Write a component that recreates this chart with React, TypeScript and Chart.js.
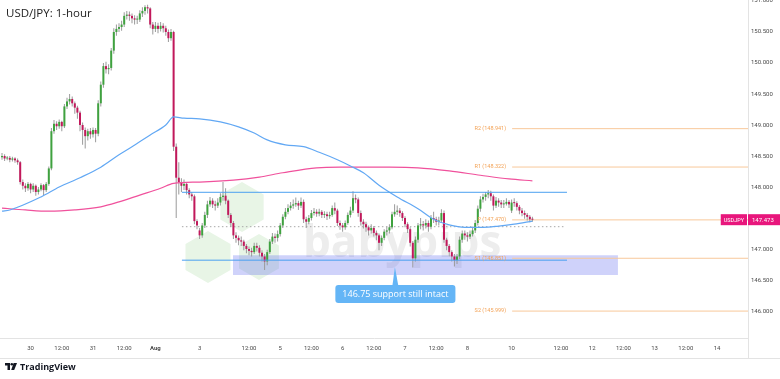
import React, { useEffect, useRef } from 'react';
import { Chart, registerables } from 'chart.js';
Chart.register(...registerables);

// ---------- DATA ----------
const closes = [
  148.50,148.46,148.47,148.44,148.46,148.43,148.40,148.08,148.02,147.98,
  148.05,147.96,148.02,147.92,147.96,148.03,147.95,148.05,148.30,148.90,
  149.02,148.98,149.05,148.98,149.30,149.38,149.42,149.35,149.28,149.20,
  149.00,148.92,148.82,148.90,148.85,148.92,148.86,149.35,149.65,149.95,
  149.90,149.92,150.20,150.50,150.55,150.58,150.62,150.76,150.78,150.76,
  150.72,150.70,150.70,150.80,150.84,150.90,150.88,150.62,150.55,150.60,
  150.55,150.60,150.56,150.50,150.40,150.50,148.65,148.15,148.08,148.02,
  148.05,147.95,147.88,147.85,147.45,147.38,147.22,147.38,147.55,147.72,
  147.78,147.72,147.70,147.75,147.84,147.86,147.78,147.55,147.42,147.22,
  147.18,147.14,147.12,147.05,147.00,146.97,146.95,147.05,147.02,146.94,
  146.88,146.80,146.95,147.12,147.20,147.18,147.24,147.38,147.52,147.60,
  147.66,147.70,147.72,147.74,147.70,147.76,147.48,147.44,147.50,147.58,
  147.60,147.57,147.60,147.55,147.56,147.53,147.55,147.66,147.62,147.42,
  147.38,147.35,147.42,147.55,147.62,147.82,147.80,147.58,147.44,147.40,
  147.35,147.30,147.34,147.26,147.22,147.10,147.18,147.28,147.30,147.35,
  147.56,147.60,147.62,147.58,147.50,147.40,147.32,147.10,146.85,147.15,
  147.38,147.40,147.38,147.42,147.36,147.50,147.48,147.44,147.46,147.58,
  147.15,147.05,146.95,146.88,146.82,146.88,147.15,147.25,147.22,147.20,
  147.24,147.30,147.42,147.65,147.80,147.84,147.88,147.90,147.85,147.70,
  147.78,147.75,147.72,147.73,147.76,147.72,147.75,147.74,147.68,147.62,
  147.58,147.55,147.52,147.48,147.473,
];
const highs = [
  148.55,148.53,148.50,148.50,148.49,148.48,148.46,148.42,148.12,148.06,
  148.08,148.07,148.06,148.04,148.00,148.06,148.05,148.08,148.33,148.95,
  149.08,149.06,149.09,149.07,149.34,149.44,149.50,149.46,149.38,149.31,
  149.23,149.04,148.96,148.94,148.95,148.96,148.95,149.40,149.70,150.00,
  150.02,149.98,150.24,150.56,150.62,150.64,150.68,150.82,150.84,150.83,
  150.80,150.77,150.76,150.85,150.90,150.93,150.94,150.90,150.66,150.66,
  150.65,150.66,150.64,150.60,150.54,150.55,150.52,148.70,148.40,148.14,
  148.12,148.08,147.98,147.92,147.88,147.48,147.34,147.42,147.60,147.78,
  147.84,147.82,147.78,147.82,147.90,148.08,147.98,147.80,147.58,147.45,
  147.27,147.22,147.20,147.15,147.08,147.04,147.02,147.10,147.10,147.06,
  146.98,146.92,146.99,147.16,147.26,147.25,147.30,147.42,147.56,147.66,
  147.72,147.76,147.80,147.83,147.78,147.83,147.80,147.52,147.55,147.63,
  147.66,147.64,147.65,147.63,147.61,147.60,147.60,147.70,147.75,147.65,
  147.46,147.42,147.46,147.59,147.68,147.93,147.88,147.83,147.62,147.48,
  147.44,147.38,147.40,147.37,147.30,147.25,147.22,147.32,147.36,147.40,
  147.60,147.72,147.70,147.66,147.61,147.53,147.43,147.35,147.13,147.20,
  147.42,147.50,147.45,147.48,147.46,147.55,147.60,147.52,147.52,147.64,
  147.62,147.18,147.08,146.98,146.92,146.92,147.20,147.30,147.30,147.27,
  147.30,147.36,147.47,147.70,147.85,147.89,147.92,147.95,147.94,147.88,
  147.84,147.82,147.79,147.79,147.82,147.79,147.80,147.82,147.77,147.71,
  147.66,147.62,147.58,147.55,147.52,
];
const lows = [
  148.44,148.42,148.43,148.40,148.41,148.39,148.36,148.04,147.96,147.92,
  147.94,147.90,147.92,147.86,147.88,147.93,147.87,147.92,148.02,148.27,
  148.86,148.92,148.94,148.90,148.95,149.26,149.33,149.30,149.18,149.10,
  148.90,148.68,148.62,148.75,148.78,148.80,148.72,148.82,149.30,149.60,
  149.83,149.82,149.88,150.15,150.44,150.50,150.52,150.58,150.70,150.68,
  150.64,150.62,150.63,150.66,150.74,150.78,150.80,150.56,150.46,150.50,
  150.48,150.51,150.49,150.44,150.34,150.36,148.58,147.50,147.88,147.92,
  147.95,147.88,147.82,147.78,147.40,147.32,147.16,147.18,147.34,147.50,
  147.68,147.66,147.62,147.66,147.70,147.78,147.72,147.50,147.36,147.16,
  147.10,147.06,147.05,146.98,146.93,146.90,146.88,146.92,146.96,146.88,
  146.80,146.66,146.74,146.92,147.08,147.10,147.12,147.20,147.34,147.48,
  147.56,147.62,147.65,147.68,147.63,147.66,147.42,147.34,147.40,147.46,
  147.54,147.52,147.53,147.50,147.50,147.47,147.49,147.52,147.56,147.37,
  147.31,147.28,147.31,147.39,147.51,147.58,147.74,147.52,147.38,147.33,
  147.28,147.22,147.25,147.20,147.14,146.98,147.05,147.14,147.22,147.25,
  147.32,147.52,147.55,147.52,147.45,147.35,147.26,147.04,146.70,146.80,
  147.10,147.32,147.30,147.33,147.28,147.32,147.42,147.38,147.38,147.42,
  147.10,146.98,146.88,146.80,146.72,146.76,146.84,147.10,147.15,147.12,
  147.16,147.20,147.26,147.38,147.60,147.75,147.78,147.82,147.78,147.62,
  147.66,147.68,147.66,147.66,147.70,147.66,147.58,147.68,147.62,147.56,
  147.53,147.49,147.46,147.43,147.44,
];
// session opens (first bar, Sunday re-opens); other opens = previous close
const sessionOpens: Record<number, number> = { 0: 148.48, 76: 147.30, 196: 147.62 };

const xTickPos = [11, 23, 35, 47, 59, 76, 95, 107, 119, 131, 143, 155, 167, 179, 196, 215, 227, 239, 251, 263, 275];
const xTickLabels = ['30', '12:00', '31', '12:00', 'Aug', '3', '12:00', '5', '12:00', '6', '12:00', '7', '12:00', '8', '10', '12:00', '12', '12:00', '13', '12:00', '14'];
const yTicks = [146.0, 146.5, 147.0, 147.5, 148.0, 148.5, 149.0, 149.5, 150.0, 150.5, 151.0];

const blueMaK = [0, 3, 15, 22, 30, 38, 45, 50, 57, 63, 66, 70, 76, 84, 91, 97, 102, 109, 116, 122, 129, 134, 139, 145, 152, 160, 166, 172, 178, 185, 191, 197, 204];
const blueMaV = [147.61, 147.63, 147.84, 148.0, 148.15, 148.32, 148.52, 148.65, 148.84, 149.0, 149.13, 149.11, 149.1, 149.05, 148.97, 148.87, 148.76, 148.68, 148.65, 148.56, 148.44, 148.34, 148.23, 148.03, 147.84, 147.65, 147.48, 147.39, 147.35, 147.35, 147.37, 147.4, 147.45];
const pinkMaK = [0, 9, 18, 28, 38, 45, 53, 61, 66, 76, 89, 99, 108, 121, 130, 139, 149, 160, 172, 184, 195, 204];
const pinkMaV = [147.66, 147.63, 147.61, 147.63, 147.68, 147.76, 147.87, 147.98, 148.06, 148.08, 148.11, 148.16, 148.23, 148.31, 148.32, 148.32, 148.32, 148.31, 148.26, 148.19, 148.13, 148.1];

const resistanceLevel = 147.915;
const supportLevel = 146.82;
const levelStartK = 69.2;
const levelEndK = 217.3;
const zoneTop = 146.9;
const zoneBottom = 146.58;
const zoneStartK = 88.8;
const zoneEndK = 236.9;
const dottedLevel = 147.36;
const dottedEndK = 216.5;
const pivotNames = ['R2', 'R1', 'P', 'S1', 'S2'];
const pivotValues = [148.941, 148.322, 147.47, 146.851, 145.999];
const pivotStartK = 196.2;
const pivotEndK = 290;
const lastPrice = 147.473;
const symbolName = 'USDJPY';
const calloutText = '146.75 support still intact';
const calloutK = 151.3;
const calloutPrice = 146.274;
const calloutTipPrice = 146.71;

// ---------- STYLE ----------
const UP = '#3fa23f';
const DOWN = '#c2185b';
const WICK = '#9a9a9a';
const BLUE_MA = '#62a8f4';
const PINK_MA = '#f0519c';
const LEVEL = '#4aa0f0';
const PIVOT = '#f8c89a';
const PIVOT_TEXT = '#f3a357';
const TAG = '#e8167c';
const AXIS_TEXT = '#4a4a4a';
const BORDER = '#e3e3e3';

const opens = closes.map((c, i) => (sessionOpens[i] !== undefined ? sessionOpens[i] : closes[i - 1]));

const overlayPlugin = {
  id: 'overlay',
  beforeDatasetsDraw(chart: any) {
    const { ctx, chartArea } = chart;
    ctx.save();
    ctx.beginPath();
    ctx.rect(chartArea.left, chartArea.top, chartArea.right - chartArea.left, chartArea.bottom - chartArea.top);
    ctx.clip();
    // watermark hexagons
    const hexes = [[242, 207, 25], [208, 257, 26], [259, 257, 23]];
    ctx.fillStyle = '#e8f5e6';
    hexes.forEach(([hx, hy, r]) => {
      ctx.beginPath();
      for (let i = 0; i < 6; i++) {
        const a = (Math.PI / 180) * (-90 + 60 * i);
        const px = hx + r * Math.cos(a);
        const py = hy + r * Math.sin(a);
        if (i === 0) ctx.moveTo(px, py); else ctx.lineTo(px, py);
      }
      ctx.closePath();
      ctx.fill();
    });
    ctx.fillStyle = '#ededed';
    ctx.font = 'bold 44px "Open Sans"';
    ctx.textBaseline = 'alphabetic';
    ctx.textAlign = 'left';
    ctx.fillText('babypips', 303, 257);
    ctx.restore();
  },
  afterDatasetsDraw(chart: any) {
    const { ctx } = chart;
    const xs = chart.scales.x;
    const ys = chart.scales.y;
    ctx.save();
    // pivot labels
    ctx.font = '5.5px Roboto';
    ctx.fillStyle = PIVOT_TEXT;
    ctx.textAlign = 'right';
    ctx.textBaseline = 'middle';
    const lx = xs.getPixelForValue(pivotStartK) - 6;
    pivotNames.forEach((n, i) => {
      ctx.fillText(`${n} (${pivotValues[i].toFixed(3)})`, lx, ys.getPixelForValue(pivotValues[i]));
    });
    // callout
    const cx = xs.getPixelForValue(calloutK);
    const cy = ys.getPixelForValue(calloutPrice);
    const tipY = ys.getPixelForValue(calloutTipPrice);
    ctx.font = '9px "Open Sans"';
    const tw = ctx.measureText(calloutText).width;
    const w = tw + 14;
    const h = 18;
    ctx.fillStyle = '#64b5f6';
    ctx.beginPath();
    ctx.roundRect(cx - w / 2, cy - h / 2, w, h, 3);
    ctx.fill();
    ctx.beginPath();
    ctx.moveTo(cx - 3, cy - h / 2 + 1);
    ctx.lineTo(cx + 3, cy - h / 2 + 1);
    ctx.lineTo(cx - 0.5, tipY);
    ctx.closePath();
    ctx.fill();
    ctx.fillStyle = '#ffffff';
    ctx.textAlign = 'center';
    ctx.textBaseline = 'middle';
    ctx.fillText(calloutText, cx, cy + 0.5);
    ctx.restore();
  },
  afterDraw(chart: any) {
    const { ctx, chartArea } = chart;
    const ys = chart.scales.y;
    ctx.save();
    // frame lines around the time axis
    ctx.strokeStyle = BORDER;
    ctx.lineWidth = 1;
    ctx.beginPath();
    ctx.moveTo(0, chartArea.bottom + 20.5);
    ctx.lineTo(780, chartArea.bottom + 20.5);
    ctx.moveTo(chartArea.right + 0.5, chartArea.bottom);
    ctx.lineTo(chartArea.right + 0.5, chartArea.bottom + 20);
    ctx.stroke();
    // last price tag
    const y = ys.getPixelForValue(lastPrice);
    ctx.fillStyle = TAG;
    ctx.fillRect(chartArea.right, y - 5.5, 780 - chartArea.right, 11);
    ctx.font = '5.5px Roboto';
    const sw = ctx.measureText(symbolName).width + 6;
    ctx.fillRect(chartArea.right - sw - 1, y - 5.5, sw, 11);
    ctx.fillStyle = '#ffffff';
    ctx.textBaseline = 'middle';
    ctx.textAlign = 'center';
    ctx.fillText(symbolName, chartArea.right - 1 - sw / 2, y + 0.5);
    ctx.font = '6px Roboto';
    ctx.textAlign = 'left';
    ctx.fillText(lastPrice.toFixed(3), chartArea.right + 4, y + 0.5);
    ctx.restore();
  },
};

function hLine(k0: number, k1: number, v: number) {
  return [{ x: k0, y: v }, { x: k1, y: v }];
}

export default function App() {
  const ref = useRef<HTMLCanvasElement>(null);
  useEffect(() => {
    document.body.style.margin = '0';
    const bodyData = closes.map((c, i) => ({ x: i, y: [opens[i], c] }));
    const wickData = closes.map((c, i) => ({ x: i, y: [lows[i], highs[i]] }));
    const bodyColors = closes.map((c, i) => (c >= opens[i] ? UP : DOWN));
    const lineBase = { type: 'line', pointRadius: 0, pointHoverRadius: 0, fill: false };
    const datasets: any[] = [
      {
        ...lineBase, data: hLine(zoneStartK, zoneEndK, zoneTop), borderWidth: 0,
        fill: { value: zoneBottom }, backgroundColor: 'rgba(95,105,240,0.30)', order: 20,
      },
      ...pivotValues.map((v) => ({
        ...lineBase, data: hLine(pivotStartK, pivotEndK, v), borderColor: PIVOT, borderWidth: 1, order: 19,
      })),
      {
        ...lineBase, data: hLine(levelStartK, dottedEndK, dottedLevel), borderColor: '#a8a8a8',
        borderWidth: 1, borderDash: [1.5, 2.5], order: 18,
      },
      { type: 'bar', data: wickData, backgroundColor: WICK, barThickness: 1, grouped: false, minBarLength: 1, inflateAmount: 0, order: 6 },
      { type: 'bar', data: bodyData, backgroundColor: bodyColors, barThickness: 2, grouped: false, minBarLength: 1, inflateAmount: 0, order: 5 },
      {
        ...lineBase, data: pinkMaK.map((k, i) => ({ x: k, y: pinkMaV[i] })), borderColor: PINK_MA,
        borderWidth: 1.2, cubicInterpolationMode: 'monotone', order: 4,
      },
      {
        ...lineBase, data: blueMaK.map((k, i) => ({ x: k, y: blueMaV[i] })), borderColor: BLUE_MA,
        borderWidth: 1.2, cubicInterpolationMode: 'monotone', order: 3,
      },
      { ...lineBase, data: hLine(levelStartK, levelEndK, resistanceLevel), borderColor: LEVEL, borderWidth: 1, order: 2 },
      { ...lineBase, data: hLine(levelStartK, levelEndK, supportLevel), borderColor: LEVEL, borderWidth: 1, order: 2 },
    ];
    const chart = new Chart(ref.current as HTMLCanvasElement, {
      type: 'bar',
      data: { datasets },
      plugins: [overlayPlugin],
      options: {
        responsive: false,
        animation: false,
        events: [],
        layout: { padding: { left: 0, right: 0, top: 0, bottom: 21 } },
        plugins: { legend: { display: false }, tooltip: { enabled: false }, title: { display: false } },
        scales: {
          x: {
            type: 'linear',
            min: -0.77,
            max: 286.92,
            offset: false,
            grid: { display: false, drawTicks: false, offset: false },
            border: { display: true, color: BORDER },
            afterBuildTicks: (scale: any) => {
              scale.ticks = xTickPos.map((v) => ({ value: v }));
            },
            afterFit: (scale: any) => {
              scale.height = 20;
              scale.paddingLeft = 0;
              scale.paddingRight = 0;
            },
            ticks: {
              autoSkip: false,
              maxRotation: 0,
              minRotation: 0,
              padding: 7,
              color: AXIS_TEXT,
              font: (ctx: any) => ({ family: 'Roboto', size: 6, weight: xTickLabels[ctx.index] === 'Aug' ? 'bold' : 'normal' }),
              callback: (_v: any, i: number) => xTickLabels[i],
            },
          },
          y: {
            type: 'linear',
            position: 'right',
            min: 145.565,
            max: 151.016,
            grid: { display: false, drawTicks: false },
            border: { display: true, color: BORDER },
            afterBuildTicks: (scale: any) => {
              scale.ticks = yTicks.map((v) => ({ value: v }));
            },
            afterFit: (scale: any) => {
              scale.width = 32;
              scale.paddingTop = 0;
              scale.paddingBottom = 0;
            },
            ticks: {
              padding: 3,
              color: AXIS_TEXT,
              font: { family: 'Roboto', size: 6 },
              callback: (v: any) => Number(v).toFixed(3),
            },
          },
        },
      } as any,
    });
    return () => chart.destroy();
  }, []);

  return (
    <div style={{ position: 'fixed', left: 0, top: 0, width: 780, height: 379, background: '#ffffff', overflow: 'hidden' }}>
      <canvas ref={ref} width={780} height={379} style={{ position: 'absolute', left: 0, top: 0, width: 780, height: 379 }} />
      <div style={{ position: 'absolute', left: 6, top: 7, font: '11.5px "Open Sans"', lineHeight: '11.5px', color: '#222', whiteSpace: 'nowrap' }}>
        USD/JPY: 1-hour
      </div>
      <div style={{ position: 'absolute', left: 5, top: 362, display: 'flex', alignItems: 'center', gap: 3 }}>
        <svg width="12" height="7" viewBox="0 0 12 7">
          <path d="M0 0 H5 V7 H2.5 V2.5 H0 Z" fill="#131722" />
          <circle cx="6.8" cy="1.3" r="1.3" fill="#131722" />
          <path d="M8.6 0 H12 L9.2 7 H6.2 Z" fill="#131722" />
        </svg>
        <span style={{ font: 'bold 9px "Open Sans"', color: '#131722', lineHeight: '9px' }}>TradingView</span>
      </div>
    </div>
  );
}
